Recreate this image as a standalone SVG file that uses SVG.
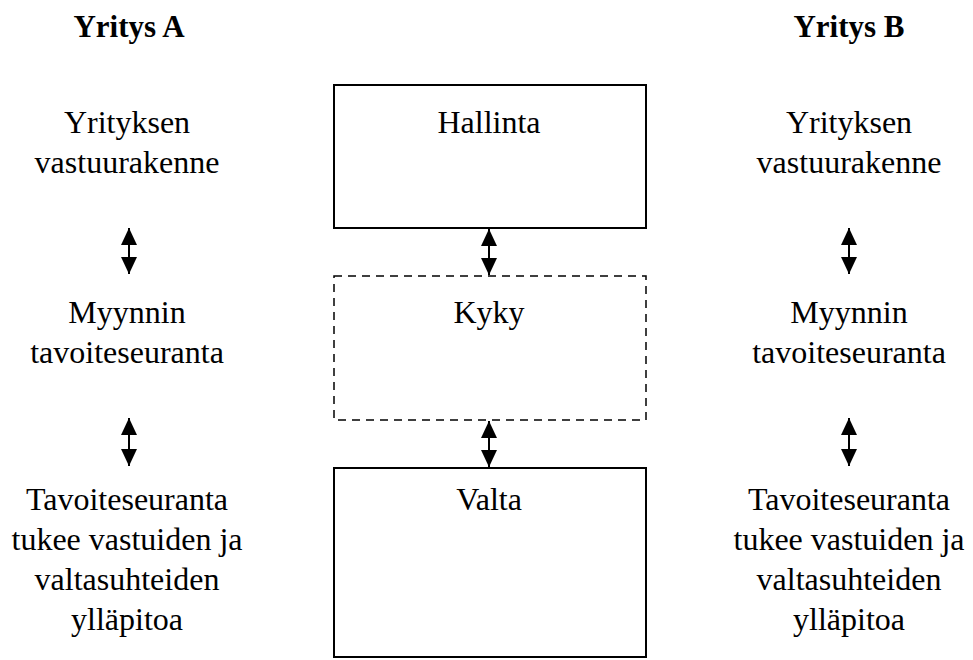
<svg xmlns="http://www.w3.org/2000/svg" width="973" height="660" viewBox="0 0 973 660">
  <style>
    text { font-family: 'Liberation Serif', Tinos, 'Times New Roman', 'DejaVu Serif', serif; font-size: 32px; fill: #000; text-anchor: middle; }
    .head { font-weight: bold; font-size: 31px; }
    .box { fill: #fff; stroke: #000; stroke-width: 2; }
    .dash { fill: #fff; stroke: #000; stroke-width: 1.5; stroke-dasharray: 8 6; }
    .link { stroke: #000; stroke-width: 2; fill: none; marker-start: url(#head); marker-end: url(#head); }
  </style>
  <defs>
    <marker id="head" viewBox="0 0 10 10" refX="10" refY="5" markerWidth="17" markerHeight="16" markerUnits="userSpaceOnUse" orient="auto-start-reverse" preserveAspectRatio="none">
      <path d="M0,0 L10,5 L0,10 Z" fill="#000"/>
    </marker>
  </defs>
  <rect width="973" height="660" fill="#fff"/>

  <g id="company-a">
    <text class="head" x="129" y="37">Yritys A</text>
    <text x="127" y="133">Yrityksen</text>
    <text x="127" y="173">vastuurakenne</text>
    <text x="127" y="323">Myynnin</text>
    <text x="127" y="363">tavoiteseuranta</text>
    <text x="127" y="510">Tavoiteseuranta</text>
    <text x="127" y="550">tukee vastuiden ja</text>
    <text x="127" y="590">valtasuhteiden</text>
    <text x="127" y="630">ylläpitoa</text>
  </g>

  <g id="company-b">
    <text class="head" x="849" y="37">Yritys B</text>
    <text x="849" y="133">Yrityksen</text>
    <text x="849" y="173">vastuurakenne</text>
    <text x="849" y="323">Myynnin</text>
    <text x="849" y="363">tavoiteseuranta</text>
    <text x="849" y="510">Tavoiteseuranta</text>
    <text x="849" y="550">tukee vastuiden ja</text>
    <text x="849" y="590">valtasuhteiden</text>
    <text x="849" y="630">ylläpitoa</text>
  </g>

  <g id="hallinta">
    <rect class="box" x="334" y="85" width="312" height="143"/>
    <text x="489" y="133">Hallinta</text>
  </g>

  <g id="kyky">
    <rect class="dash" x="334" y="276" width="312" height="144"/>
    <text x="489" y="323">Kyky</text>
  </g>

  <g id="valta">
    <rect class="box" x="334" y="468" width="312" height="189"/>
    <text x="489" y="510">Valta</text>
  </g>

  <g id="connectors">
    <line class="link" x1="489" y1="229" x2="489" y2="275"/>
    <line class="link" x1="489" y1="421" x2="489" y2="467"/>
    <line class="link" x1="129" y1="228" x2="129" y2="274"/>
    <line class="link" x1="129" y1="418" x2="129" y2="466"/>
    <line class="link" x1="849" y1="228" x2="849" y2="274"/>
    <line class="link" x1="849" y1="418" x2="849" y2="466"/>
  </g>
</svg>
